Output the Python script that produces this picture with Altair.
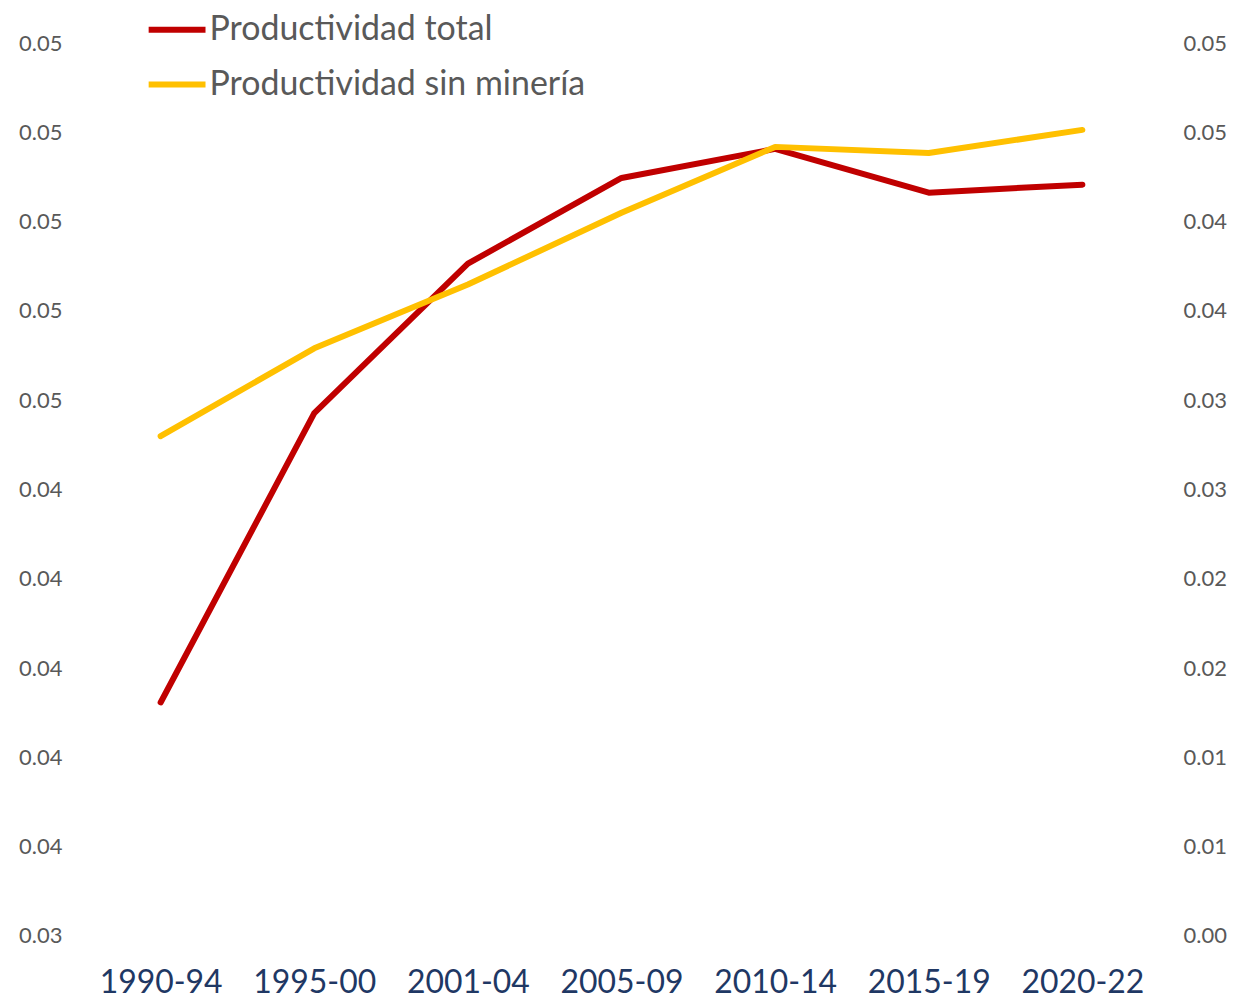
import altair as alt
import pandas as pd

periods = ["1990-94", "1995-00", "2001-04", "2005-09", "2010-14", "2015-19", "2020-22"]
total = [0.03923, 0.04571, 0.04906, 0.05098, 0.05163, 0.05065, 0.05083]
sin_mineria = [0.02799, 0.03291, 0.03648, 0.04050, 0.04419, 0.04385, 0.04514]
series_names = ["Productividad total", "Productividad sin minería"]
series_colors = ["#C00000", "#FFC000"]
left_ticks = [0.034, 0.036, 0.038, 0.040, 0.042, 0.044, 0.046, 0.048, 0.050, 0.052, 0.054]
right_ticks = [0.000, 0.005, 0.010, 0.015, 0.020, 0.025, 0.030, 0.035, 0.040, 0.045, 0.050]

rows = []
for p, v in zip(periods, total):
    rows.append({"periodo": p, "serie": series_names[0], "valor": v})
for p, v in zip(periods, sin_mineria):
    rows.append({"periodo": p, "serie": series_names[1], "valor": v})
df = pd.DataFrame(rows)

FONT = "Lato"

x_enc = alt.X(
    "periodo:N", sort=periods,
    scale=alt.Scale(type="point", padding=0.5),
    axis=alt.Axis(title=None, labelAngle=0, domain=False, ticks=False, grid=False,
                  labelFontSize=32, labelColor="#1F3864", labelPadding=32, labelFont=FONT),
)
color_enc = alt.Color(
    "serie:N",
    scale=alt.Scale(domain=series_names, range=series_colors),
    legend=alt.Legend(
        title=None, orient="none", legendX=62, legendY=-45,
        symbolType="stroke", symbolSize=3249, symbolStrokeWidth=6,
        labelFontSize=34, labelColor="#595959", labelFont=FONT,
        rowPadding=6, labelOffset=1, labelLimit=700,
    ),
)

base = alt.Chart(df)

left = base.transform_filter(alt.datum.serie == series_names[0]).mark_line(
    strokeWidth=6, strokeCap="round", strokeJoin="round"
).encode(
    x=x_enc,
    y=alt.Y("valor:Q", scale=alt.Scale(domain=[left_ticks[0], left_ticks[-1]], nice=False, zero=False),
            axis=alt.Axis(title=None, orient="left", values=left_ticks, domain=False, ticks=False,
                          grid=False, labelFontSize=22, labelColor="#595959", labelPadding=22,
                          labelFont=FONT, labelExpr="format(datum.value + 1e-9, '.2f')")),
    color=color_enc,
)

right = base.transform_filter(alt.datum.serie == series_names[1]).mark_line(
    strokeWidth=6, strokeCap="round", strokeJoin="round"
).encode(
    x=x_enc,
    y=alt.Y("valor:Q", scale=alt.Scale(domain=[right_ticks[0], right_ticks[-1]], nice=False, zero=False),
            axis=alt.Axis(title=None, orient="right", values=right_ticks, domain=False, ticks=False,
                          grid=False, labelFontSize=22, labelColor="#595959", labelPadding=24,
                          labelFont=FONT, labelExpr="format(datum.value + 1e-9, '.2f')")),
    color=color_enc,
)

chart = alt.layer(left, right).resolve_scale(y="independent").properties(
    width=1078, height=895,
    autosize=alt.AutoSizeParams(type="none"),
    padding={"left": 76, "top": 34, "right": 70, "bottom": 64},
).configure_view(stroke=None)

chart.save("out.html", embed_options={"renderer": "svg", "actions": False})
